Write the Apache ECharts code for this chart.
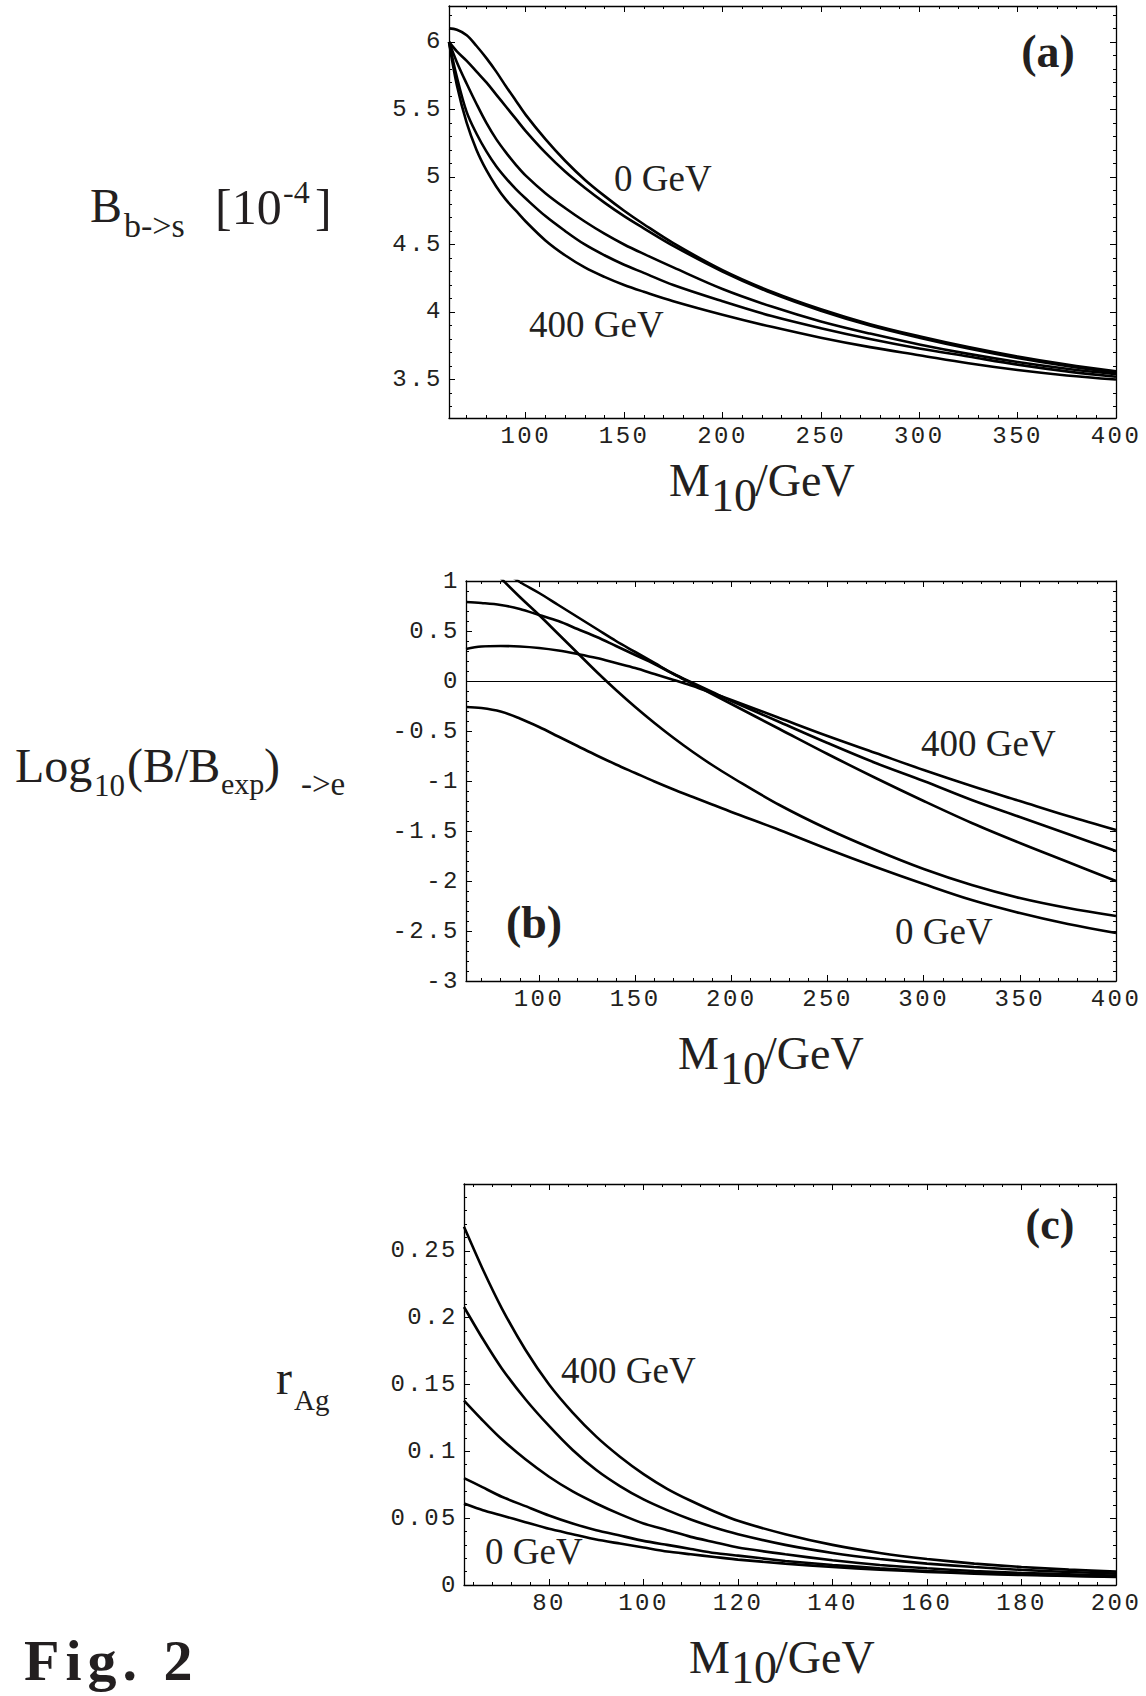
<!DOCTYPE html>
<html><head><meta charset="utf-8">
<script src="https://cdn.jsdelivr.net/npm/echarts/dist/echarts.min.js"></script>
<style>
html,body{margin:0;padding:0;background:#fff}
#c{width:1146px;height:1696px}
#c text[style*="Mono"]{letter-spacing:2.5px}
#c text[style*="58px"]{letter-spacing:6px}
</style>
</head><body><div id="c"></div>
<script>
// ---------- Panel (a): B(b->s) [1e-4] vs M10 ----------
const xA = [61, 65, 70, 75, 80, 85, 90, 95, 100, 110, 120, 130, 140, 150, 160, 175, 200, 225, 250, 275, 300, 325, 350, 375, 400];
const a0 = [6.10, 6.09, 6.05, 5.97, 5.88, 5.78, 5.67, 5.565, 5.46, 5.28, 5.12, 4.98, 4.86, 4.75, 4.65, 4.51, 4.31, 4.15, 4.02, 3.91, 3.82, 3.74, 3.67, 3.61, 3.56];
const a1 = [6.00, 5.93, 5.86, 5.78, 5.70, 5.61, 5.52, 5.43, 5.34, 5.18, 5.04, 4.92, 4.81, 4.71, 4.62, 4.49, 4.30, 4.14, 4.01, 3.90, 3.81, 3.73, 3.66, 3.60, 3.55];
const a2 = [6.00, 5.85, 5.69, 5.54, 5.40, 5.28, 5.18, 5.09, 5.01, 4.88, 4.77, 4.67, 4.58, 4.50, 4.43, 4.33, 4.17, 4.04, 3.93, 3.84, 3.76, 3.69, 3.63, 3.58, 3.54];
const a3 = [6.00, 5.74, 5.48, 5.32, 5.19, 5.08, 4.99, 4.91, 4.84, 4.71, 4.60, 4.50, 4.42, 4.35, 4.29, 4.20, 4.08, 3.97, 3.88, 3.80, 3.73, 3.67, 3.61, 3.56, 3.52];
const a4 = [6.00, 5.68, 5.40, 5.20, 5.05, 4.93, 4.83, 4.75, 4.67, 4.53, 4.42, 4.33, 4.26, 4.20, 4.15, 4.08, 3.98, 3.89, 3.81, 3.74, 3.68, 3.62, 3.57, 3.53, 3.50];
const xTicksA = [100, 150, 200, 250, 300, 350, 400];
const yTicksA = [3.5, 4, 4.5, 5, 5.5, 6];

// ---------- Panel (b): Log10(B/Bexp) ->e vs M10 ----------
const xB = [62, 70, 80, 90, 100, 110, 120, 130, 140, 150, 160, 170, 180, 190, 200, 225, 250, 275, 300, 325, 350, 375, 400];
const bP  = [0.32, 0.345, 0.35, 0.345, 0.33, 0.305, 0.27, 0.23, 0.18, 0.13, 0.07, 0.01, -0.05, -0.12, -0.19, -0.37, -0.55, -0.72, -0.89, -1.05, -1.20, -1.35, -1.49];
const bA  = [0.79, 0.78, 0.76, 0.72, 0.66, 0.60, 0.52, 0.44, 0.35, 0.26, 0.17, 0.07, -0.02, -0.11, -0.20, -0.41, -0.62, -0.82, -1.00, -1.19, -1.36, -1.53, -1.70];
const bS2 = [null, null, 1.12, 0.99, 0.88, 0.76, 0.64, 0.52, 0.40, 0.29, 0.18, 0.07, -0.03, -0.13, -0.23, -0.48, -0.73, -0.97, -1.20, -1.42, -1.62, -1.81, -2.00];
const bS1 = [null, null, 1.03, 0.84, 0.66, 0.47, 0.28, 0.09, -0.09, -0.26, -0.42, -0.57, -0.71, -0.84, -0.96, -1.24, -1.48, -1.69, -1.88, -2.04, -2.17, -2.27, -2.35];
const bB  = [-0.26, -0.27, -0.305, -0.375, -0.46, -0.555, -0.65, -0.745, -0.835, -0.92, -1.005, -1.085, -1.16, -1.235, -1.31, -1.49, -1.68, -1.86, -2.03, -2.19, -2.32, -2.43, -2.52];
const xTicksB = [100, 150, 200, 250, 300, 350, 400];
const yTicksB = [-3, -2.5, -2, -1.5, -1, -0.5, 0, 0.5, 1];

// ---------- Panel (c): r_Ag vs M10 ----------
const xC = [62, 66, 70, 75, 80, 85, 90, 95, 100, 105, 110, 115, 120, 130, 140, 150, 160, 170, 180, 190, 200];
const c4 = [0.268, 0.236, 0.207, 0.176, 0.150, 0.129, 0.111, 0.096, 0.083, 0.072, 0.063, 0.055, 0.048, 0.038, 0.030, 0.024, 0.0195, 0.016, 0.0135, 0.0115, 0.010];
const c3 = [0.208, 0.184, 0.162, 0.139, 0.119, 0.101, 0.086, 0.074, 0.064, 0.056, 0.049, 0.043, 0.038, 0.030, 0.024, 0.0195, 0.016, 0.0135, 0.0113, 0.0097, 0.0085];
const c2 = [0.138, 0.123, 0.109, 0.094, 0.081, 0.070, 0.061, 0.053, 0.046, 0.041, 0.036, 0.032, 0.028, 0.023, 0.0185, 0.015, 0.0125, 0.0105, 0.009, 0.008, 0.007];
const c1 = [0.080, 0.073, 0.066, 0.059, 0.052, 0.046, 0.041, 0.037, 0.033, 0.030, 0.027, 0.024, 0.022, 0.018, 0.015, 0.0125, 0.0105, 0.009, 0.008, 0.007, 0.0062];
const c0 = [0.061, 0.056, 0.052, 0.047, 0.042, 0.038, 0.034, 0.031, 0.028, 0.025, 0.023, 0.021, 0.019, 0.016, 0.0135, 0.0115, 0.0098, 0.0085, 0.0075, 0.0067, 0.006];
const xTicksC = [80, 100, 120, 140, 160, 180, 200];
const yTicksC = [0, 0.05, 0.1, 0.15, 0.2, 0.25];

// ---------- helpers ----------
function range(a, b, step, skipEvery) { // integer-based tick-position generator
  const out = [];
  for (let i = a; i <= b; i += step) { if (skipEvery && i % skipEvery === 0) continue; out.push(i); }
  return out;
}
const sc = (arr, f) => arr.map(v => +(v / f).toFixed(4));

const panels = [
  { grid: { left: 449, top: 6, width: 667, height: 412 }, xr: [61, 400], yr: [3.215, 6.266],
    xMaj: xTicksA, xMin: range(70, 390, 10, 50), yMaj: yTicksA, yMin: sc(range(33, 62, 1, 5), 10), yLab: yTicksA },
  { grid: { left: 466, top: 581, width: 650, height: 400 }, xr: [62, 400], yr: [-3, 1],
    xMaj: xTicksB, xMin: range(70, 390, 10, 50), yMaj: yTicksB, yMin: sc(range(-29, 9, 1, 5), 10), yLab: yTicksB },
  { grid: { left: 464, top: 1184, width: 652, height: 401 }, xr: [62, 200], yr: [0, 0.3],
    xMaj: xTicksC, xMin: range(64, 196, 4, 20), yMaj: yTicksC.concat([0.3]), yMin: sc(range(1, 29, 1, 5), 100), yLab: yTicksC }
];

const LINE = { color: '#000', width: 1.3 };
const LBL = { fontFamily: 'Liberation Mono', fontSize: 24, color: '#231f20' };
const xAxes = [], yAxes = [];
panels.forEach((p, gi) => {
  const base = { gridIndex: gi, type: 'value', splitLine: { show: false } };
  const mk = (dim, pos, line, ticks, len, labels, margin) => Object.assign({}, base, {
    min: dim === 'x' ? p.xr[0] : p.yr[0], max: dim === 'x' ? p.xr[1] : p.yr[1], position: pos,
    axisLine: { show: line, onZero: false, lineStyle: LINE },
    axisTick: { show: true, inside: true, length: len, customValues: ticks, lineStyle: { color: '#000', width: 1 } },
    axisLabel: labels ? Object.assign({ show: true, customValues: labels, margin: margin }, LBL) : { show: false }
  });
  xAxes.push(mk('x', 'bottom', true, p.xMaj, 6, p.xMaj, 6));
  xAxes.push(mk('x', 'bottom', false, p.xMin, 3, null));
  xAxes.push(mk('x', 'top', true, p.xMaj, 6, null));
  xAxes.push(mk('x', 'top', false, p.xMin, 3, null));
  yAxes.push(mk('y', 'left', true, p.yMaj, 6, p.yLab, 6));
  yAxes.push(mk('y', 'left', false, p.yMin, 3, null));
  yAxes.push(mk('y', 'right', true, p.yMaj, 6, null));
  yAxes.push(mk('y', 'right', false, p.yMin, 3, null));
});

function zip(xs, ys) { return xs.map((x, i) => [x, ys[i]]); }
function line(gi, xs, ys, smooth, extra) {
  return Object.assign({ type: 'line', xAxisIndex: gi * 4, yAxisIndex: gi * 4, data: zip(xs, ys),
    showSymbol: false, symbol: 'none', smooth: smooth, clip: true,
    lineStyle: { color: '#000', width: 2.6 }, silent: true }, extra || {});
}
const series = [
  line(0, xA, a0, 0.35), line(0, xA, a1, 0.35), line(0, xA, a2, 0.35), line(0, xA, a3, 0.35), line(0, xA, a4, 0.35),
  line(1, xB, bP, 0.35, { markLine: { silent: true, symbol: ['none', 'none'], label: { show: false },
      lineStyle: { color: '#000', width: 1.2, type: 'solid' }, data: [{ yAxis: 0 }] } }),
  line(1, xB, bA, 0.35), line(1, xB, bS2, 0.35), line(1, xB, bS1, 0.35), line(1, xB, bB, 0.35),
  line(2, xC, c4, 0.2), line(2, xC, c3, 0.2), line(2, xC, c2, 0.2), line(2, xC, c1, 0.2), line(2, xC, c0, 0.2)
];

// ---------- text ----------
const SERIF = 'Liberation Serif';
function T(text, x, y, size, opt) {
  opt = opt || {};
  return { type: 'text', x: x, y: y, silent: true, style: { text: text, fontFamily: SERIF, fontSize: size,
    fontWeight: opt.bold ? 'bold' : 'normal', fill: '#231f20', align: opt.align || 'left', verticalAlign: 'middle' } };
}
const graphics = [
  // panel (a) y title
  T('B', 90, 205, 48), T('b->s', 124, 225, 34), T('[10', 215, 207, 50), T('-4', 283, 192, 32), T(']', 315, 207, 50),
  // panel (b) y title
  T('Log', 15, 765, 48), T('10', 94, 785, 31), T('(B/B', 127, 765, 48), T('exp', 221, 783, 30), T(')', 264, 765, 48), T('->e', 301, 784, 33),
  // panel (c) y title
  T('r', 276, 1377, 48), T('Ag', 294, 1400, 29),
  // x titles
  T('M', 669, 480, 46), T('10', 711, 495, 46), T('/GeV', 755, 480, 46),
  T('M', 678, 1053, 46), T('10', 720, 1068, 46), T('/GeV', 764, 1053, 46),
  T('M', 689, 1657, 46), T('10', 731, 1667, 46), T('/GeV', 775, 1657, 46),
  // panel letters
  T('(a)', 1048, 51, 46, { bold: true, align: 'center' }),
  T('(b)', 534, 922, 46, { bold: true, align: 'center' }),
  T('(c)', 1050, 1224, 44, { bold: true, align: 'center' }),
  // curve labels
  T('0 GeV', 614, 178, 37), T('400 GeV', 529, 324, 37),
  T('400 GeV', 921, 743, 37), T('0 GeV', 895, 931, 37),
  T('400 GeV', 561, 1370, 37), T('0 GeV', 485, 1551, 37),
  // figure label
  T('Fig. 2', 24, 1660, 58, { bold: true })
];

const chart = echarts.init(document.getElementById('c'), null, { renderer: 'svg' });
chart.setOption({
  animation: false,
  backgroundColor: '#fff',
  grid: panels.map(p => Object.assign({ containLabel: false }, p.grid)),
  xAxis: xAxes, yAxis: yAxes, series: series, graphic: graphics
});
</script></body></html>
